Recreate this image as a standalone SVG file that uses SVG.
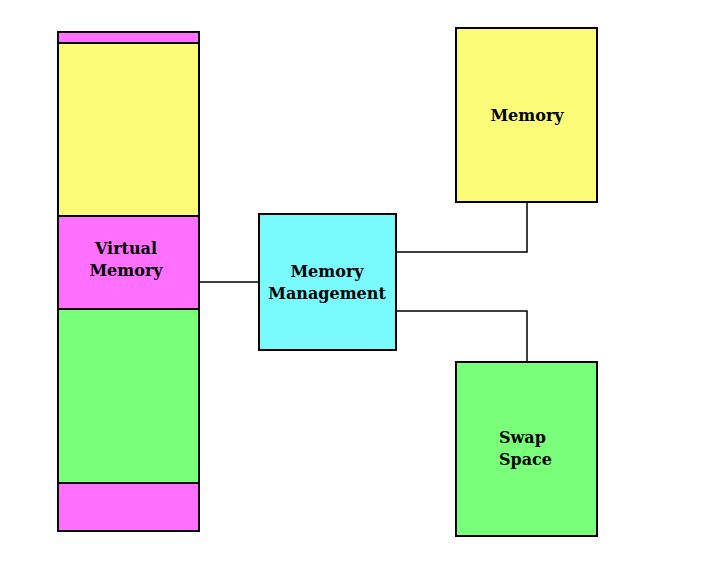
<svg xmlns="http://www.w3.org/2000/svg" width="725" height="581" viewBox="0 0 725 581">
<style>
.box{stroke:#000;stroke-width:2}
.pink{fill:#FF70FF}.yellow{fill:#FCFC78}.green{fill:#7AFF7A}.cyan{fill:#78FAFF}
text{font-family:"DejaVu Serif","Liberation Serif",serif;font-weight:bold;font-size:16px;fill:#000}
.c{text-anchor:middle}
#connectors path{fill:none;stroke:#000;stroke-width:1.5}
</style>
<rect width="725" height="581" fill="#fff"/>
<g id="virtual-memory-column">
<rect class="box pink" x="58" y="32" width="141" height="11"/>
<rect class="box yellow" x="58" y="43" width="141" height="173"/>
<rect class="box pink" x="58" y="483" width="141" height="48"/>
<rect class="box green" x="58" y="309" width="141" height="174"/>
</g>
<g id="virtual-memory">
<rect class="box pink" x="58" y="216" width="141" height="93"/>
<text class="c" x="126" y="254">Virtual</text>
<text class="c" x="126" y="276">Memory</text>
</g>
<g id="connectors">
<path d="M199 282H259"/>
<path d="M396 252H527V202"/>
<path d="M396 311H527V362"/>
</g>
<g id="memory-management">
<rect class="box cyan" x="259" y="214" width="137" height="136"/>
<text class="c" x="327" y="277">Memory</text>
<text class="c" x="327" y="299">Management</text>
</g>
<g id="memory">
<rect class="box yellow" x="456" y="28" width="141" height="174"/>
<text class="c" x="527" y="121">Memory</text>
</g>
<g id="swap-space">
<rect class="box green" x="456" y="362" width="141" height="174"/>
<text x="499" y="443">Swap</text>
<text x="499" y="465">Space</text>
</g>
</svg>
